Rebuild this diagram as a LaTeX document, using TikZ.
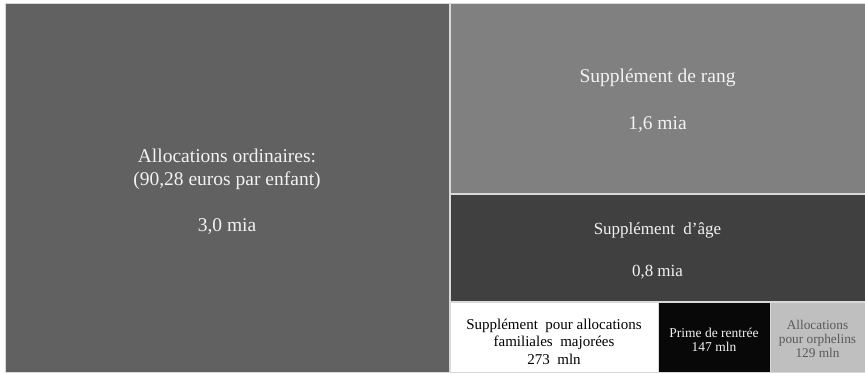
\documentclass[tikz,border=0pt]{standalone}
\usepackage{fontspec}
\setmainfont{Liberation Serif}
\definecolor{cOrd}{HTML}{616161}
\definecolor{cRang}{HTML}{808080}
\definecolor{cAge}{HTML}{404040}
\definecolor{cPrime}{HTML}{080808}
\definecolor{cOrph}{HTML}{BFBFBF}
\definecolor{cLine}{HTML}{D9D9D9}
\definecolor{cLight}{HTML}{F2F2F2}
\definecolor{cOrphTxt}{HTML}{595959}
\tikzset{
  cell/.style={rectangle, anchor=north west, draw=cLine, line width=0.8pt,
    inner sep=0pt, outer sep=0pt},
  lbl/.style={inner sep=0pt, outer sep=0pt, align=center},
}
\begin{document}
\begin{tikzpicture}[x=1pt,y=-1pt]
\useasboundingbox[fill=white] (0,0) rectangle (865,373);
\node[cell, fill=cOrd, minimum width=444pt, minimum height=369pt] (ord) at (5,3) {};
\node[cell, fill=cRang, minimum width=415pt, minimum height=190pt] (rang) at (450,3) {};
\node[cell, fill=cAge, minimum width=415pt, minimum height=107pt] (age) at (450,194) {};
\node[cell, fill=white, minimum width=208pt, minimum height=70pt] (maj) at (450,302) {};
\node[cell, fill=cPrime, minimum width=112pt, minimum height=70pt] (prime) at (658,302) {};
\node[cell, fill=cOrph, minimum width=95pt, minimum height=70pt] (orph) at (770,302) {};

\node[lbl, text=cLight, font=\fontsize{19.5}{23}\selectfont] (ordt) at ([yshift=-4pt]ord.center)
  {Allocations ordinaires:\\(90,28 euros par enfant)\\[23pt]3,0 mia};
\node[lbl, text=cLight, font=\fontsize{19.5}{23}\selectfont] (rangt) at ([yshift=-3pt]rang.center)
  {Supplément de rang\\[24pt]1,6 mia};
\node[lbl, text=cLight, font=\fontsize{17}{20}\selectfont] (aget) at ([yshift=-3pt]age.center)
  {Supplément\ \ d’âge\\[22pt]0,8 mia};
\node[lbl, text=black, font=\fontsize{15}{17.5}\selectfont] (majt) at ([yshift=-4.5pt]maj.center)
  {Supplément\ \ pour allocations\\familiales\ \ majorées\\273\ \ mln};
\node[lbl, text=cLight, font=\fontsize{13.5}{14}\selectfont] (primet) at ([yshift=-3pt]prime.center)
  {Prime de rentrée\\147 mln};
\node[lbl, text=cOrphTxt, font=\fontsize{13.3}{14}\selectfont] (orpht) at ([yshift=-2pt]orph.center)
  {Allocations\\pour orphelins\\129 mln};
\end{tikzpicture}
\end{document}
